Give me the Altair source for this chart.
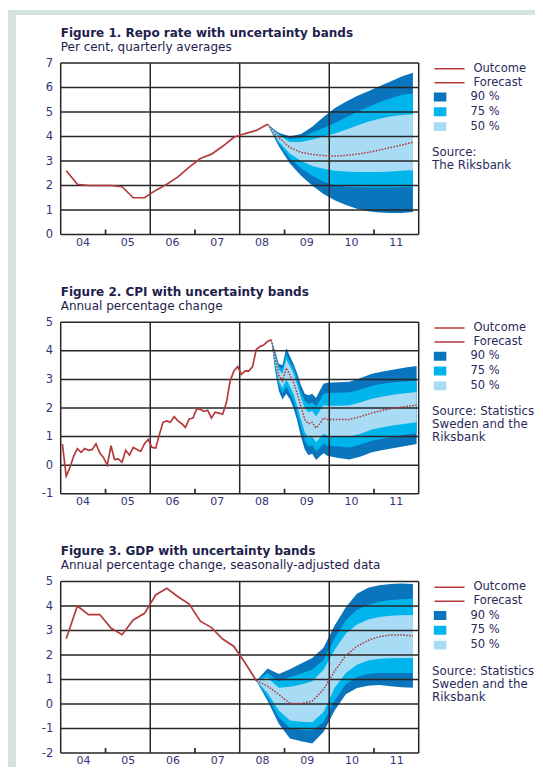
import altair as alt
import pandas as pd

# ---------------- shared categories / styling ----------------
x_domain_years = [2004, 2012]
x_label_years = [2004, 2005, 2006, 2007, 2008, 2009, 2010, 2011]
x_labels = ["04", "05", "06", "07", "08", "09", "10", "11"]
grid_years = [2006, 2008, 2010]
tick_years = [2005, 2007, 2009, 2011]
band_names = ["90 %", "75 %", "50 %"]
band_colors = ["#0a75bd", "#00b4ec", "#a8dbf4"]
line_names = ["Outcome", "Forecast"]

FONT = "DejaVu Sans"
RED = "#b33a3c"
GRID = "#262626"
STRIP = "#d4e3dd"
TITLE_C = "#1e1e4c"
TEXT_C = "#2a2a5a"
LABEL_C = "#34347a"

# ---------------- Figure 1: repo rate (quarterly) ----------------
fig1_title = "Figure 1. Repo rate with uncertainty bands"
fig1_subtitle = "Per cent, quarterly averages"
fig1_source = ["Source:", "The Riksbank"]
fig1_y = (0, 7)
fig1_out_span = ("2004Q1", "2008Q3")
fig1_outcome = [2.6, 2.05, 2.0, 2.0, 2.0, 1.95, 1.5, 1.5, 1.8, 2.05, 2.35, 2.75,
                3.1, 3.28, 3.6, 3.97, 4.12, 4.25, 4.5]
fig1_fc_span = ("2008Q3", "2011Q4")
fig1_median = [4.5, 3.95, 3.55, 3.35, 3.27, 3.22, 3.2, 3.23, 3.28, 3.35, 3.45, 3.55, 3.65, 3.77]
fig1_u90 = [4.5, 4.15, 4.0, 4.1, 4.4, 4.8, 5.15, 5.42, 5.65, 5.85, 6.05, 6.25, 6.45, 6.6]
fig1_u75 = [4.5, 4.1, 3.9, 3.95, 4.15, 4.35, 4.55, 4.78, 5.0, 5.2, 5.4, 5.55, 5.7, 5.76]
fig1_u50 = [4.5, 4.05, 3.78, 3.78, 3.88, 4.0, 4.12, 4.28, 4.45, 4.6, 4.72, 4.82, 4.88, 4.91]
fig1_l50 = [4.5, 3.8, 3.3, 3.0, 2.8, 2.68, 2.6, 2.57, 2.55, 2.55, 2.55, 2.57, 2.6, 2.62]
fig1_l75 = [4.5, 3.7, 3.1, 2.7, 2.4, 2.15, 2.0, 1.95, 1.93, 1.92, 1.92, 1.92, 1.93, 1.93]
fig1_l90 = [4.5, 3.6, 2.9, 2.4, 2.0, 1.65, 1.4, 1.2, 1.05, 0.95, 0.9, 0.88, 0.88, 0.92]

# ---------------- Figure 2: CPI (monthly) ----------------
fig2_title = "Figure 2. CPI with uncertainty bands"
fig2_subtitle = "Annual percentage change"
fig2_source = ["Source: Statistics", "Sweden and the", "Riksbank"]
fig2_y = (-1, 5)
fig2_out_span = ("2004-01", "2008-09")
fig2_outcome = [0.74, -0.39, -0.1, 0.3, 0.58, 0.45, 0.58, 0.52, 0.55, 0.75, 0.42, 0.27,
                0.0, 0.68, 0.2, 0.22, 0.1, 0.52, 0.35, 0.62, 0.55, 0.48, 0.75, 0.9,
                0.62, 0.6, 1.05, 1.5, 1.55, 1.5, 1.7, 1.55, 1.45, 1.32, 1.62, 1.65,
                1.97, 1.95, 1.88, 1.92, 1.65, 1.85, 1.82, 1.78, 2.2, 2.95, 3.3, 3.45,
                3.18, 3.3, 3.29, 3.45, 4.05, 4.15, 4.2, 4.33, 4.39]
fig2_fc_months = ["2008-09", "2008-10", "2008-11", "2008-12",
                  "2009-01", "2009-02", "2009-03", "2009-04", "2009-05", "2009-06",
                  "2009-07", "2009-08", "2009-09", "2009-10", "2009-11", "2009-12",
                  "2010-03", "2010-06", "2010-09", "2010-12",
                  "2011-03", "2011-06", "2011-09", "2011-12"]
fig2_median = [4.39, 3.75, 3.15, 2.95, 3.4, 3.15, 2.9, 2.5, 2.05, 1.6, 1.45, 1.5, 1.3, 1.45, 1.65, 1.6,
               1.6, 1.6, 1.7, 1.83, 1.92, 2.0, 2.05, 2.1]
fig2_u90 = [4.39, 4.0, 3.55, 3.5, 4.1, 3.8, 3.55, 3.2, 2.8, 2.5, 2.45, 2.5, 2.35, 2.6, 2.85, 2.88,
            2.9, 2.92, 3.05, 3.2, 3.28, 3.35, 3.42, 3.47]
fig2_u75 = [4.39, 3.93, 3.45, 3.35, 3.9, 3.6, 3.4, 3.0, 2.55, 2.25, 2.15, 2.2, 2.05, 2.25, 2.5, 2.52,
            2.53, 2.55, 2.65, 2.78, 2.85, 2.9, 2.93, 2.95]
fig2_u50 = [4.39, 3.85, 3.35, 3.2, 3.7, 3.45, 3.2, 2.8, 2.35, 2.0, 1.85, 1.9, 1.7, 1.9, 2.1, 2.08,
            2.08, 2.1, 2.2, 2.32, 2.4, 2.47, 2.52, 2.56]
fig2_l50 = [4.39, 3.6, 2.95, 2.7, 3.0, 2.75, 2.5, 2.05, 1.6, 1.15, 0.95, 1.0, 0.8, 0.95, 1.1, 1.03,
            1.0, 1.0, 1.1, 1.25, 1.33, 1.4, 1.45, 1.5]
fig2_l75 = [4.39, 3.45, 2.8, 2.5, 2.75, 2.5, 2.25, 1.8, 1.3, 0.85, 0.65, 0.7, 0.48, 0.6, 0.75, 0.68,
            0.65, 0.62, 0.72, 0.85, 0.93, 1.0, 1.07, 1.12]
fig2_l90 = [4.39, 3.35, 2.6, 2.3, 2.5, 2.3, 2.0, 1.55, 1.0, 0.55, 0.35, 0.4, 0.18, 0.3, 0.42, 0.33,
            0.25, 0.2, 0.3, 0.45, 0.53, 0.6, 0.67, 0.74]

# ---------------- Figure 3: GDP (quarterly) ----------------
fig3_title = "Figure 3. GDP with uncertainty bands"
fig3_subtitle = "Annual percentage change, seasonally-adjusted data"
fig3_source = ["Source: Statistics", "Sweden and the", "Riksbank"]
fig3_y = (-2, 5)
fig3_out_span = ("2004Q1", "2008Q2")
fig3_outcome = [2.66, 4.0, 3.65, 3.65, 3.1, 2.83, 3.43, 3.7, 4.45, 4.72, 4.38, 4.08,
                3.38, 3.12, 2.65, 2.35, 1.67, 0.95]
fig3_fc_span = ("2008Q2", "2011Q4")
fig3_median = [0.95, 0.73, 0.39, 0.02, 0.02, 0.12, 0.59, 1.34, 1.98, 2.35, 2.6, 2.75, 2.82, 2.82, 2.78]
fig3_u90 = [0.95, 1.45, 1.22, 1.42, 1.65, 1.88, 2.3, 3.2, 3.95, 4.5, 4.75, 4.85, 4.9, 4.92, 4.9]
fig3_u75 = [0.95, 1.27, 0.93, 1.1, 1.25, 1.41, 1.8, 2.68, 3.42, 3.85, 4.05, 4.17, 4.25, 4.28, 4.3]
fig3_u50 = [0.95, 1.07, 0.66, 0.7, 0.8, 0.93, 1.4, 2.21, 2.88, 3.25, 3.45, 3.55, 3.6, 3.62, 3.63]
fig3_l50 = [0.95, 0.45, -0.27, -0.67, -0.72, -0.74, -0.34, 0.66, 1.27, 1.6, 1.78, 1.85, 1.87, 1.88, 1.88]
fig3_l75 = [0.95, 0.27, -0.54, -1.0, -1.05, -1.08, -0.74, 0.14, 0.81, 1.1, 1.22, 1.27, 1.27, 1.27, 1.27]
fig3_l90 = [0.95, 0.13, -0.81, -1.41, -1.52, -1.61, -1.14, -0.27, 0.4, 0.65, 0.75, 0.78, 0.72, 0.68, 0.66]


# ---------------- helpers ----------------
def mid_quarters(start, end):
    per = pd.period_range(start, end, freq="Q")
    return [(p.start_time + (p.end_time - p.start_time) / 2).normalize() for p in per]


def mid_months(months):
    return [pd.Period(m, freq="M").start_time + pd.Timedelta(days=14) for m in months]


def month_range(start, end):
    return [str(p) for p in pd.period_range(start, end, freq="M")]


def jan1(years):
    return [pd.Timestamp(year=y, month=1, day=1) for y in years]


def jul1(years):
    return [pd.Timestamp(year=y, month=7, day=1) for y in years]


# ---------------- geometry (pixels, relative to the plot origin) ----------------
W = 358
H = 171.5
PANEL_TOPS = [0, 259.25, 518.5]
TOTAL_H = PANEL_TOPS[2] + H
PAD = {"left": 52.7, "top": 55, "right": 527 - 52.7 - W, "bottom": 759 - 55 - TOTAL_H}
STRIP_TOP = -53
LEG_X = 372.8
SRC_X = 371.3

X_SCALE = alt.Scale(domain=[alt.DateTime(year=x_domain_years[0], month=1, date=1),
                            alt.DateTime(year=x_domain_years[1], month=1, date=1)], nice=False)
X_AXIS = alt.Axis(values=[alt.DateTime(year=y, month=7, date=1) for y in x_label_years],
                  format="%y", labelFont=FONT, labelFontSize=11, labelColor=LABEL_C,
                  labelPadding=1, ticks=False, domain=False, grid=False, title=None,
                  labelAngle=0, labelOverlap=False)
ONE = pd.DataFrame({"k": [0]})


def xenc(field):
    return alt.X(f"{field}:T", scale=X_SCALE, axis=X_AXIS, title=None)


def panel(title, subtitle, source, ydom, out_dates, out_vals, fc_dates, fc_med, bands,
          top, text_xlabels):
    ylo, yhi = ydom
    yvals = list(range(ylo, yhi + 1))
    ysc = alt.Scale(domain=[ylo, yhi], range=[top + H, top], nice=False, zero=False)
    yax = alt.Axis(orient="left", values=yvals,
                   labelExpr="datum.value < 0 ? '-' + abs(datum.value) : '' + datum.value",
                   labelFont=FONT, labelFontSize=11.5, labelColor=LABEL_C, labelPadding=8,
                   ticks=False, domain=False, grid=False, title=None)

    def yenc(field):
        return alt.Y(f"{field}:Q", scale=ysc, axis=yax, title=None)

    fill_scale = alt.Scale(domain=band_names, range=band_colors)
    fill_legend = alt.Legend(orient="none", legendX=LEG_X, legendY=top + 27.3, title=None,
                             symbolType="M-1,-0.7H1V0.7H-1Z", symbolSize=161,
                             symbolStrokeWidth=0, symbolOpacity=1,
                             labelFont=FONT, labelFontSize=11.5, labelColor=TEXT_C,
                             labelOffset=24, clipHeight=13.4, rowPadding=0.8, padding=0)
    line_scale = alt.Scale(domain=line_names, range=[RED, RED])
    line_legend = alt.Legend(orient="none", legendX=LEG_X, legendY=top - 1, title=None,
                             symbolType="stroke", symbolSize=900, symbolStrokeWidth=1.5,
                             symbolDash=[1, 0],
                             labelFont=FONT, labelFontSize=11.5, labelColor=TEXT_C,
                             labelOffset=8, clipHeight=13.4, rowPadding=0, padding=0)

    layers = []
    # uncertainty bands
    for name, lo, hi in bands:
        df = pd.DataFrame({"date": fc_dates, "lo": lo, "hi": hi, "band": name})
        layers.append(alt.Chart(df).mark_area(opacity=1, interpolate="linear").encode(
            x=xenc("date"), y=yenc("lo"), y2="hi:Q",
            fill=alt.Fill("band:N", scale=fill_scale, legend=fill_legend)))

    # horizontal grid lines (the outer ones form the frame's top and bottom)
    layers.append(alt.Chart(pd.DataFrame({"v": yvals})).mark_rule(
        color=GRID, strokeWidth=1.5).encode(y=yenc("v")))
    # vertical lines: frame sides and the two-year grid
    vdf = pd.DataFrame({"d": jan1(x_domain_years + grid_years), "lo": ylo, "hi": yhi})
    layers.append(alt.Chart(vdf).mark_rule(color=GRID, strokeWidth=1.5).encode(
        x=xenc("d"), y=yenc("lo"), y2="hi:Q"))
    # small ticks standing on the time axis
    tdf = pd.DataFrame({"d": jan1(tick_years), "lo": ylo})
    layers.append(alt.Chart(tdf).mark_rule(color=GRID, strokeWidth=1.7, y2Offset=-5).encode(
        x=xenc("d"), y=yenc("lo"), y2="lo:Q"))

    # lines
    dfo = pd.DataFrame({"date": out_dates, "v": out_vals, "s": "Outcome"})
    dff = pd.DataFrame({"date": fc_dates, "v": fc_med, "s": "Forecast"})
    layers.append(alt.Chart(dff).mark_line(strokeWidth=1.5, strokeDash=[1.6, 1.4]).encode(
        x=xenc("date"), y=yenc("v"),
        color=alt.Color("s:N", scale=line_scale, legend=line_legend)))
    layers.append(alt.Chart(dfo).mark_line(strokeWidth=1.7).encode(
        x=xenc("date"), y=yenc("v"),
        color=alt.Color("s:N", scale=line_scale, legend=line_legend)))

    # year labels under the upper panels (the bottom panel uses the x axis)
    if text_xlabels:
        ldf = pd.DataFrame({"d": jul1(x_label_years), "t": x_labels})
        layers.append(alt.Chart(ldf).mark_text(
            baseline="top", font=FONT, fontSize=11, color=LABEL_C).encode(
            x=xenc("d"), y=alt.value(top + H + 2), text="t:N"))

    # titles and source note
    layers.append(alt.Chart(ONE).mark_text(
        align="left", baseline="alphabetic", font=FONT, fontSize=12, fontWeight="bold",
        color=TITLE_C).encode(x=alt.value(0), y=alt.value(top - 26.5), text=alt.value(title)))
    layers.append(alt.Chart(ONE).mark_text(
        align="left", baseline="alphabetic", font=FONT, fontSize=12,
        color=TITLE_C).encode(x=alt.value(0), y=alt.value(top - 12.5), text=alt.value(subtitle)))
    layers.append(alt.Chart(ONE).mark_text(
        align="left", baseline="alphabetic", font=FONT, fontSize=11.8, lineHeight=13,
        color=TEXT_C).encode(x=alt.value(SRC_X), y=alt.value(top + 93), text=alt.value(source)))

    return alt.layer(*layers)


# page frame strips (light band along the top and left edge)
strips = alt.layer(
    alt.Chart(ONE).mark_rect(color=STRIP).encode(
        x=alt.value(-52.7), x2=alt.value(-44.7), y=alt.value(STRIP_TOP), y2=alt.value(TOTAL_H + 30)),
    alt.Chart(ONE).mark_rect(color=STRIP).encode(
        x=alt.value(-52.7), x2=alt.value(W + PAD["right"]), y=alt.value(STRIP_TOP),
        y2=alt.value(STRIP_TOP + 5)),
)

p1 = panel(fig1_title, fig1_subtitle, fig1_source, fig1_y,
           mid_quarters(*fig1_out_span), fig1_outcome,
           mid_quarters(*fig1_fc_span), fig1_median,
           [("90 %", fig1_l90, fig1_u90), ("75 %", fig1_l75, fig1_u75), ("50 %", fig1_l50, fig1_u50)],
           top=PANEL_TOPS[0], text_xlabels=True)

p2 = panel(fig2_title, fig2_subtitle, fig2_source, fig2_y,
           mid_months(month_range(*fig2_out_span)), fig2_outcome,
           mid_months(fig2_fc_months), fig2_median,
           [("90 %", fig2_l90, fig2_u90), ("75 %", fig2_l75, fig2_u75), ("50 %", fig2_l50, fig2_u50)],
           top=PANEL_TOPS[1], text_xlabels=True)

p3 = panel(fig3_title, fig3_subtitle, fig3_source, fig3_y,
           mid_quarters(*fig3_out_span), fig3_outcome,
           mid_quarters(*fig3_fc_span), fig3_median,
           [("90 %", fig3_l90, fig3_u90), ("75 %", fig3_l75, fig3_u75), ("50 %", fig3_l50, fig3_u50)],
           top=PANEL_TOPS[2], text_xlabels=False)

chart = alt.layer(strips, p1, p2, p3).resolve_scale(
    y="independent", color="independent", fill="independent"
).properties(
    width=W, height=TOTAL_H,
    autosize=alt.AutoSizeParams(type="none"),
    padding=PAD, background="white"
).configure_view(stroke=None)

chart.save("out.html", embed_options={"renderer": "svg", "actions": False})
